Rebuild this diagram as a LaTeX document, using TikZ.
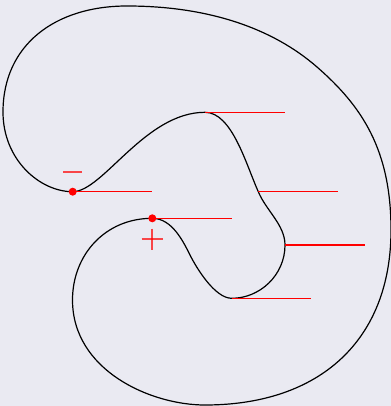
\documentclass[tikz,border=0pt]{standalone}
\usetikzlibrary{calc}
\definecolor{bgcol}{HTML}{EAEAF2}
\begin{document}
\begin{tikzpicture}[x=0.75pt,y=-0.75pt,
  curve/.style={draw=black,line width=0.9pt},
  tangent/.style={draw=red,line width=1.1pt},
  sign/.style={draw=red,opacity=0.7,line width=1.1pt},
  pt/.style={fill=red,draw=none}]
\fill[bgcol] (0,0) rectangle (391,406);
\useasboundingbox (0,0) rectangle (391,406);
% key points
\coordinate (A) at (72.7,191.7);
\coordinate (B) at (152.3,218.3);
\coordinate (T) at (205,112.3);
\coordinate (R1) at (258.3,191.7);
\coordinate (R2) at (285,245);
\coordinate (Bt) at (231.7,298.3);
\coordinate (M) at (190,255);
\coordinate (L2) at (72.5,300);
\coordinate (Bot) at (205,405);
\coordinate (Rt) at (391,230);
\coordinate (M1) at (317,67);
\coordinate (Tp) at (127,6);
\coordinate (Lf) at (3,112);
% closed curve
\draw[curve] (A) .. controls (103,191.7) and (145,112.3) .. (T)
 .. controls (232,112.3) and (246,164.4) .. (R1)
 .. controls (266,210.4) and (285,225) .. (R2)
 .. controls (285,275) and (260,298.3) .. (Bt)
 .. controls (215,298.3) and (196.7,268.4) .. (M)
 .. controls (183.3,241.6) and (172,218.3) .. (B)
 .. controls (105,218.3) and (72.5,255) .. (L2)
 .. controls (72.5,370) and (150,405) .. (Bot)
 .. controls (320,405) and (391,340) .. (Rt)
 .. controls (391,150) and (362.2,106.4) .. (M1)
 .. controls (271.8,27.6) and (207,6) .. (Tp)
 .. controls (55,6) and (3,45) .. (Lf)
 .. controls (3,160) and (40,191.7) .. cycle;
% horizontal red lines
\foreach \p in {A,B,T,R1,R2,Bt}{
  \coordinate (\p e) at ($(\p)+(79.6,0)$);
  \draw[tangent] (\p) -- (\p e);
}
% dots
\fill[pt] (A) circle[radius=4];
\fill[pt] (B) circle[radius=4];
% signs
\coordinate (m1) at (63,172); \coordinate (m2) at (82,172);
\draw[sign] (m1) -- (m2);
\coordinate (p1) at (141.5,239); \coordinate (p2) at (162.5,239);
\coordinate (p3) at (152,228.5); \coordinate (p4) at (152,249.5);
\draw[sign] (p1) -- (p2);
\draw[sign] (p3) -- (p4);
\end{tikzpicture}
\end{document}
